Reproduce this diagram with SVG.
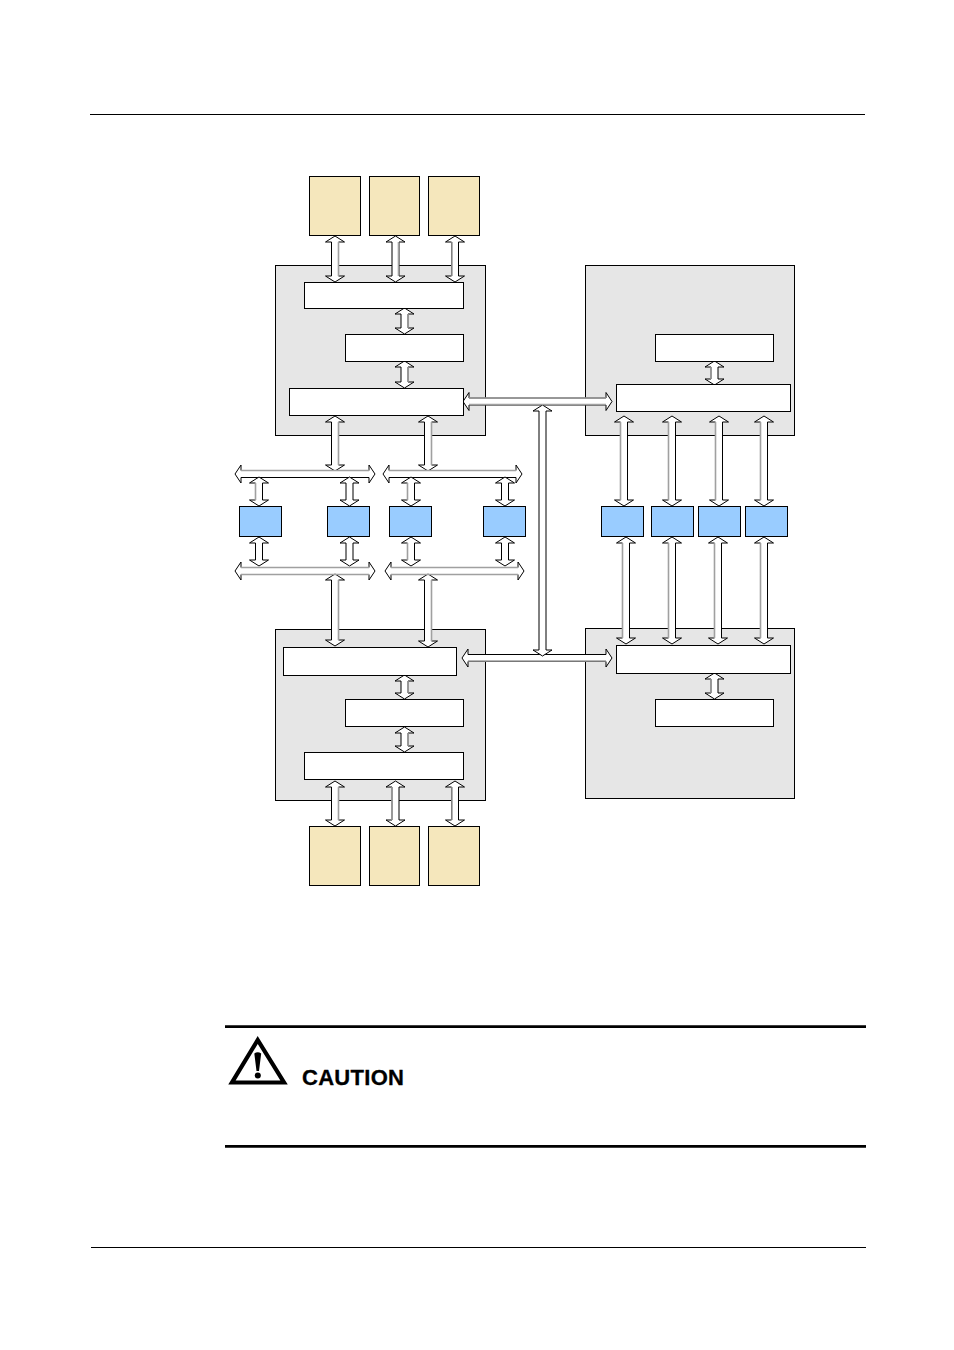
<svg xmlns="http://www.w3.org/2000/svg" width="954" height="1350" viewBox="0 0 954 1350">
<style>
.n{stroke:#000;stroke-width:1}
.g{fill:#e6e6e6}.w{fill:#fff}.b{fill:#99ccff}.c{fill:#f5e7bc}
.a{fill:#fff;stroke:#000;stroke-width:1;stroke-linejoin:miter}
.s{fill:none;stroke:#a0a0a0;stroke-width:1.6}
.r{stroke:#000;stroke-width:1}
text{font-family:"Liberation Sans",Arial,sans-serif}
</style>
<rect width="954" height="1350" fill="#fff"/>
<g id="page-rules">
<path class="r" d="M90 114.5H865M91 1247.5H866" fill="none"/>
<path d="M225 1026.700H866M225 1146.400H866" fill="none" stroke="#000" stroke-width="2.700"/>
</g>
<g id="cpu-a"><rect class="n g" x="275.5" y="265.5" width="210" height="170"/></g>
<g id="cpu-b"><rect class="n g" x="585.5" y="265.5" width="209" height="170"/></g>
<g id="cpu-c"><rect class="n g" x="275.5" y="629.5" width="210" height="171"/></g>
<g id="cpu-d"><rect class="n g" x="585.5" y="628.5" width="209" height="170"/></g>
<g id="connectors">
<path class="a" d="M335 236l9.500 6h-6V276h6l-9.500 6l-9.500-6h6V242h-6z"/>
<path class="a" d="M395.500 236l9.500 6h-6V276h6l-9.500 6l-9.500-6h6V242h-6z"/>
<path class="a" d="M455 236l9.500 6h-6V276h6l-9.500 6l-9.500-6h6V242h-6z"/>
<path class="a" d="M404.500 308l9.500 6h-6V328h6l-9.500 6l-9.500-6h6V314h-6z"/>
<path class="a" d="M404.500 361l9.500 6h-6V382h6l-9.500 6l-9.500-6h6V367h-6z"/>
<path class="a" d="M714.500 361l9.500 6h-6V379h6l-9.500 6l-9.500-6h6V367h-6z"/>
<path class="a" d="M335 416l9.500 6h-6V465h6l-9.500 6l-9.500-6h6V422h-6z"/>
<path class="a" d="M428 416l9.500 6h-6V465h6l-9.500 6l-9.500-6h6V422h-6z"/>
<path class="a" d="M624 416l9.500 6h-6V500h6l-9.500 6l-9.500-6h6V422h-6z"/>
<path class="a" d="M672 416l9.500 6h-6V500h6l-9.500 6l-9.500-6h6V422h-6z"/>
<path class="a" d="M719 416l9.500 6h-6V500h6l-9.500 6l-9.500-6h6V422h-6z"/>
<path class="a" d="M764 416l9.500 6h-6V500h6l-9.500 6l-9.500-6h6V422h-6z"/>
<path class="a" d="M626 537l9.500 6h-6V638h6l-9.500 6l-9.500-6h6V543h-6z"/>
<path class="a" d="M672 537l9.500 6h-6V638h6l-9.500 6l-9.500-6h6V543h-6z"/>
<path class="a" d="M718 537l9.500 6h-6V638h6l-9.500 6l-9.500-6h6V543h-6z"/>
<path class="a" d="M764 537l9.500 6h-6V638h6l-9.500 6l-9.500-6h6V543h-6z"/>
<path class="a" d="M235 474l6-9v5.500H369v-5.500l6 9l-6 9v-5.500H241v5.500z"/>
<path class="a" d="M383 474l6-9v5.500H516v-5.500l6 9l-6 9v-5.500H389v5.500z"/>
<path class="a" d="M235 571l6-9v5.500H369v-5.500l6 9l-6 9v-5.500H241v5.500z"/>
<path class="a" d="M385 571l6-9v5.500H518v-5.500l6 9l-6 9v-5.500H391v5.500z"/>
<path class="a" d="M259 477l9.500 6h-6V500h6l-9.500 6l-9.500-6h6V483h-6z"/>
<path class="a" d="M349.500 477l9.500 6h-6V500h6l-9.500 6l-9.500-6h6V483h-6z"/>
<path class="a" d="M411 477l9.500 6h-6V500h6l-9.500 6l-9.500-6h6V483h-6z"/>
<path class="a" d="M505 477l9.500 6h-6V500h6l-9.500 6l-9.500-6h6V483h-6z"/>
<path class="a" d="M259 537l9.500 6h-6V560h6l-9.500 6l-9.500-6h6V543h-6z"/>
<path class="a" d="M349.500 537l9.500 6h-6V560h6l-9.500 6l-9.500-6h6V543h-6z"/>
<path class="a" d="M411 537l9.500 6h-6V560h6l-9.500 6l-9.500-6h6V543h-6z"/>
<path class="a" d="M505 537l9.500 6h-6V560h6l-9.500 6l-9.500-6h6V543h-6z"/>
<path class="a" d="M335 574l9.500 6h-6V640h6l-9.500 6l-9.500-6h6V580h-6z"/>
<path class="a" d="M428 574l9.500 6h-6V641h6l-9.500 6l-9.500-6h6V580h-6z"/>
<path class="a" d="M404.500 675l9.500 6h-6V693h6l-9.500 6l-9.500-6h6V681h-6z"/>
<path class="a" d="M404.500 727l9.500 6h-6V746h6l-9.500 6l-9.500-6h6V733h-6z"/>
<path class="a" d="M714.500 673l9.500 6h-6V693h6l-9.500 6l-9.500-6h6V679h-6z"/>
<path class="a" d="M335 781l9.500 6h-6V820h6l-9.500 6l-9.500-6h6V787h-6z"/>
<path class="a" d="M395.500 781l9.500 6h-6V820h6l-9.500 6l-9.500-6h6V787h-6z"/>
<path class="a" d="M455 781l9.500 6h-6V820h6l-9.500 6l-9.500-6h6V787h-6z"/>
<path class="a" d="M463 401.500l6-9v5.500H606v-5.500l6 9l-6 9v-5.500H469v5.500z"/>
<path class="a" d="M462 658l6-9v5.500H606v-5.500l6 9l-6 9v-5.500H468v5.500z"/>
<path class="a" d="M542.500 405l9.500 6h-6V650h6l-9.500 6l-9.500-6h6V411h-6z"/>
<path class="s" d="M338.500 242V276M398.500 242V276M452 242V276M408 367V382M408 314V328M711 367V379M338.500 422V465M431.500 422V465M620.500 422V500M668.500 422V500M715.500 422V500M760.500 422V500M622.500 543V638M668.500 543V638M714.500 543V638M760.500 543V638M241 470.500H369M389 470.500H516M241 567.500H369M391 567.500H518M241 574.500H369M391 574.500H518M338.500 580V640M431.500 580V641M408 681V693M408 733V746M711 679V693M338.500 787V820M392 787V820M452 787V820M469 398H606M469 404.500H606M468 661H606M407.500 483V500M407.500 543V560M255.500 483V500"/>
</g>
<g id="mem-top-1"><rect class="n c" x="309.500" y="176.500" width="51" height="59"/></g>
<g id="mem-top-2"><rect class="n c" x="369.500" y="176.500" width="50" height="59"/></g>
<g id="mem-top-3"><rect class="n c" x="428.500" y="176.500" width="51" height="59"/></g>
<g id="mem-bottom-1"><rect class="n c" x="309.500" y="826.500" width="51" height="59"/></g>
<g id="mem-bottom-2"><rect class="n c" x="369.500" y="826.500" width="50" height="59"/></g>
<g id="mem-bottom-3"><rect class="n c" x="428.500" y="826.500" width="51" height="59"/></g>
<g id="a-mc"><rect class="n w" x="304.500" y="282.500" width="159" height="26"/></g>
<g id="a-core"><rect class="n w" x="345.500" y="334.500" width="118" height="27"/></g>
<g id="a-link"><rect class="n w" x="289.500" y="388.500" width="174" height="27"/></g>
<g id="b-core"><rect class="n w" x="655.500" y="334.500" width="118" height="27"/></g>
<g id="b-link"><rect class="n w" x="616.500" y="384.500" width="174" height="27"/></g>
<g id="c-link"><rect class="n w" x="283.500" y="647.500" width="173" height="28"/></g>
<g id="c-core"><rect class="n w" x="345.500" y="699.500" width="118" height="27"/></g>
<g id="c-mc"><rect class="n w" x="304.500" y="752.500" width="159" height="27"/></g>
<g id="d-link"><rect class="n w" x="616.500" y="645.500" width="174" height="28"/></g>
<g id="d-core"><rect class="n w" x="655.500" y="699.500" width="118" height="27"/></g>
<g id="dev-1"><rect class="n b" x="239.500" y="506.500" width="42" height="30"/></g>
<g id="dev-2"><rect class="n b" x="327.500" y="506.500" width="42" height="30"/></g>
<g id="dev-3"><rect class="n b" x="389.500" y="506.500" width="42" height="30"/></g>
<g id="dev-4"><rect class="n b" x="483.500" y="506.500" width="42" height="30"/></g>
<g id="dev-5"><rect class="n b" x="601.500" y="506.500" width="42" height="30"/></g>
<g id="dev-6"><rect class="n b" x="651.500" y="506.500" width="42" height="30"/></g>
<g id="dev-7"><rect class="n b" x="698.500" y="506.500" width="42" height="30"/></g>
<g id="dev-8"><rect class="n b" x="745.500" y="506.500" width="42" height="30"/></g>
<g id="caution">
<path d="M257.700 1040L232 1082.500H284Z" fill="#fff" stroke="#000" stroke-width="4.200" stroke-linejoin="miter"/>
<path d="M254.300 1053.500Q257.700 1051 261.200 1053.500L259 1071H256.500Z" fill="#000"/>
<circle cx="257.800" cy="1075.500" r="3" fill="#000"/>
<text x="302" y="1084.500" font-size="22" font-weight="700" fill="#000" stroke="#000" stroke-width=".3" textLength="102" lengthAdjust="spacing">CAUTION</text>
</g>
</svg>
